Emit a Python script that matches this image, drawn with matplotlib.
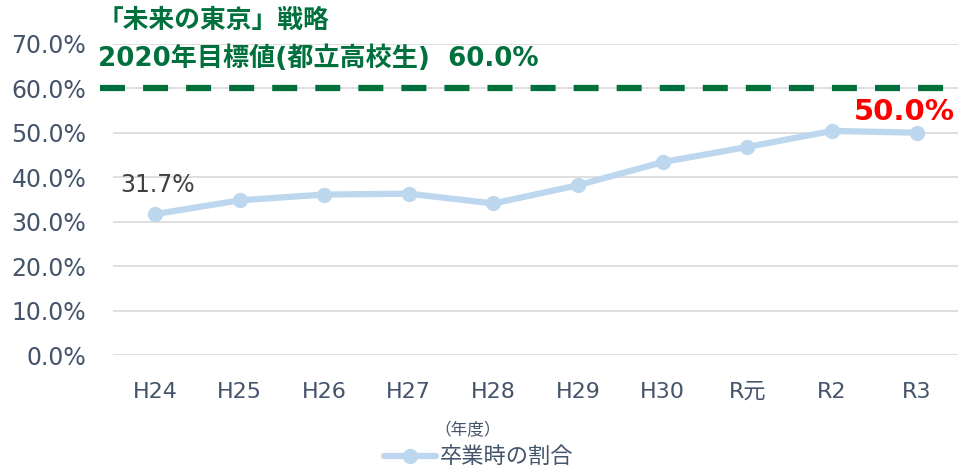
import matplotlib
matplotlib.use("Agg")
import matplotlib.pyplot as plt
from matplotlib.ticker import FuncFormatter

plt.rcParams['font.family'] = ['DejaVu Sans', 'Noto Sans CJK JP']

categories = ["H24", "H25", "H26", "H27", "H28", "H29", "H30", "R元", "R2", "R3"]
rates = [31.7, 34.8, 36.1, 36.3, 34.1, 38.2, 43.4, 46.8, 50.4, 50.0]
target = 60.0
series_name = "卒業時の割合"
title1 = "「未来の東京」戦略"
title2 = "2020年目標値(都立高校生)  60.0%"
xunit = "（年度）"

fig = plt.figure(figsize=(9.58, 4.67), dpi=100)
ax = fig.add_axes([0.1175, 0.2394, 0.8835, 0.667])

x = list(range(len(categories)))
ax.plot(x, rates, color="#BDD7EE", lw=4.5, marker="o", ms=10, label=series_name,
        solid_capstyle="round", zorder=3)

ax.set_xlim(-0.5, len(categories) - 0.5)
ax.set_ylim(0, 70)
ax.set_yticks(range(0, 71, 10))
ax.yaxis.set_major_formatter(FuncFormatter(lambda v, p: f"{v:.1f}%"))
ax.set_xticks(x)
ax.set_xticklabels(categories)
ax.tick_params(axis="y", length=0, pad=19, labelsize=17, labelcolor="#44546A")
ax.tick_params(axis="x", length=0, pad=19, labelsize=16, labelcolor="#44546A")
ax.grid(axis="y", color="#D9D9D9", lw=1.2)
ax.set_axisbelow(True)
for s in ax.spines.values():
    s.set_visible(False)

# target line
lw = 4.5
ax.plot([-0.015, 1.0], [target, target], transform=ax.get_yaxis_transform(),
        color="#00703C", lw=lw, linestyle=(0, (18 / lw, 13 / lw)), clip_on=False, zorder=4)

# annotations
ax.annotate(f"{rates[0]:.1f}%", (x[0], rates[0]), xytext=(-25, 12), textcoords="offset points",
            fontsize=17, color="#404040", ha="left", va="bottom")
ax.annotate(f"{rates[-1]:.1f}%", (x[-1], rates[-1]), xytext=(-45, 5), textcoords="offset points",
            fontsize=21, color="#FF0000", fontweight="bold", ha="left", va="bottom")

fig.text(98 / 958, 1 - 21 / 467, title1, fontsize=18.5, fontweight="bold", color="#00703C",
         ha="left", va="center")
fig.text(98 / 958, 1 - 59 / 467, title2, fontsize=18.8, fontweight="bold", color="#00703C",
         ha="left", va="center")

fig.text(468 / 958, 1 - 430 / 467, xunit, fontsize=12, color="#44546A", ha="center", va="center")

leg = fig.legend(loc="center", bbox_to_anchor=(0.5, 1 - 457 / 467), frameon=False,
                 fontsize=16, handlelength=2.3, handletextpad=0.2, borderpad=0)
for t in leg.get_texts():
    t.set_color("#44546A")

fig.savefig("out.png", dpi=100)
